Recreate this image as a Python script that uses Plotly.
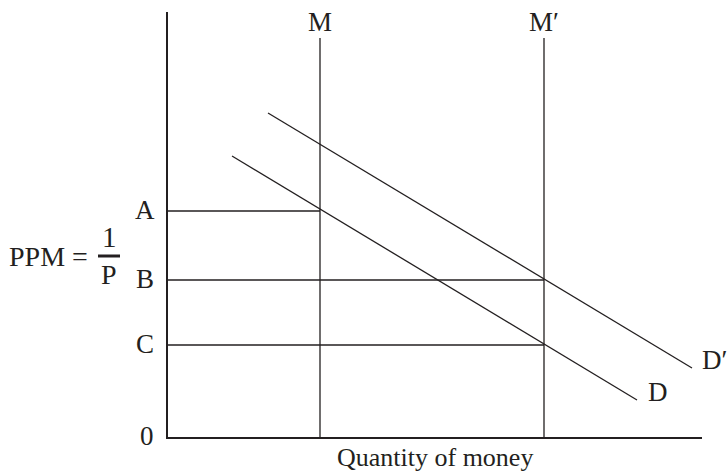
import plotly.graph_objects as go

# Diagram coordinates (arbitrary units, origin at the axes corner)
x_max = 534
y_max = 425

# Money supply lines M and M'
supply_labels = ["M", "M\u2032"]
supply_x = [152, 376]
supply_top = 399

# Price-of-money levels A, B, C and where the guide lines stop
level_labels = ["A", "B", "C"]
level_y = [226, 157, 92]
level_end_x = [152, 376, 376]

# Demand curves D and D'
demand_x = [64, 469]
demand_y = [281, 37]
demand2_x = [100, 524]
demand2_y = [324, 69]

FONT = "Liberation Serif"
INK = "#231f20"
LW = 1.3

fig = go.Figure()

# Vertical supply lines
for sx in supply_x:
    fig.add_trace(go.Scatter(x=[sx, sx], y=[0, supply_top], mode="lines",
                             line=dict(color=INK, width=LW), hoverinfo="skip"))

# Horizontal level lines
for ly, ex in zip(level_y, level_end_x):
    fig.add_trace(go.Scatter(x=[0, ex], y=[ly, ly], mode="lines",
                             line=dict(color=INK, width=LW), hoverinfo="skip"))

# Demand curves
fig.add_trace(go.Scatter(x=demand_x, y=demand_y, mode="lines",
                         line=dict(color=INK, width=LW), hoverinfo="skip"))
fig.add_trace(go.Scatter(x=demand2_x, y=demand2_y, mode="lines",
                         line=dict(color=INK, width=LW), hoverinfo="skip"))


def label(x, y, text, anchor="center", size=27):
    # paper coords so labels outside the axis range still show
    return dict(x=x / x_max, y=y / y_max, xref="paper", yref="paper", text=text,
                xanchor=anchor, yanchor="middle", showarrow=False,
                font=dict(family=FONT, size=size, color=INK))


ann = []
for lab, sx in zip(supply_labels, supply_x):
    ann.append(label(sx, supply_top + 16, lab))
for lab, ly in zip(level_labels, level_y):
    ann.append(label(-23, ly + 1, lab))
ann.append(label(-21, 1, "0"))
ann.append(label(demand_x[1] + 9, demand_y[1] + 8, "D", "left"))
ann.append(label(demand2_x[1] + 8, demand2_y[1] + 8, "D\u2032", "left"))
ann.append(label(267, -21, "Quantity of money", size=26))
ann.append(label(-78, 181, "PPM =", "right", 28))
ann.append(label(-59, 200, "1", size=29))
ann.append(label(-59, 163, "P", size=28))
fig.update_layout(annotations=ann)

# Fraction bar
fig.add_shape(type="line", xref="paper", yref="paper",
              x0=-70 / x_max, x1=-48 / x_max, y0=181 / y_max, y1=181 / y_max,
              line=dict(color=INK, width=3))

fig.update_xaxes(range=[0, x_max], showline=True, linecolor=INK, linewidth=1.5,
                 showgrid=False, zeroline=False, showticklabels=False, ticks="")
fig.update_yaxes(range=[0, y_max], showline=True, linecolor=INK, linewidth=1.5,
                 showgrid=False, zeroline=False, showticklabels=False, ticks="")

fig.update_layout(
    width=728, height=474,
    margin=dict(l=168, r=26, t=12, b=37),
    showlegend=False,
    plot_bgcolor="white", paper_bgcolor="white",
)

fig.write_html("out.html", config={"displayModeBar": False},
               post_script="document.body.style.margin='0';")
